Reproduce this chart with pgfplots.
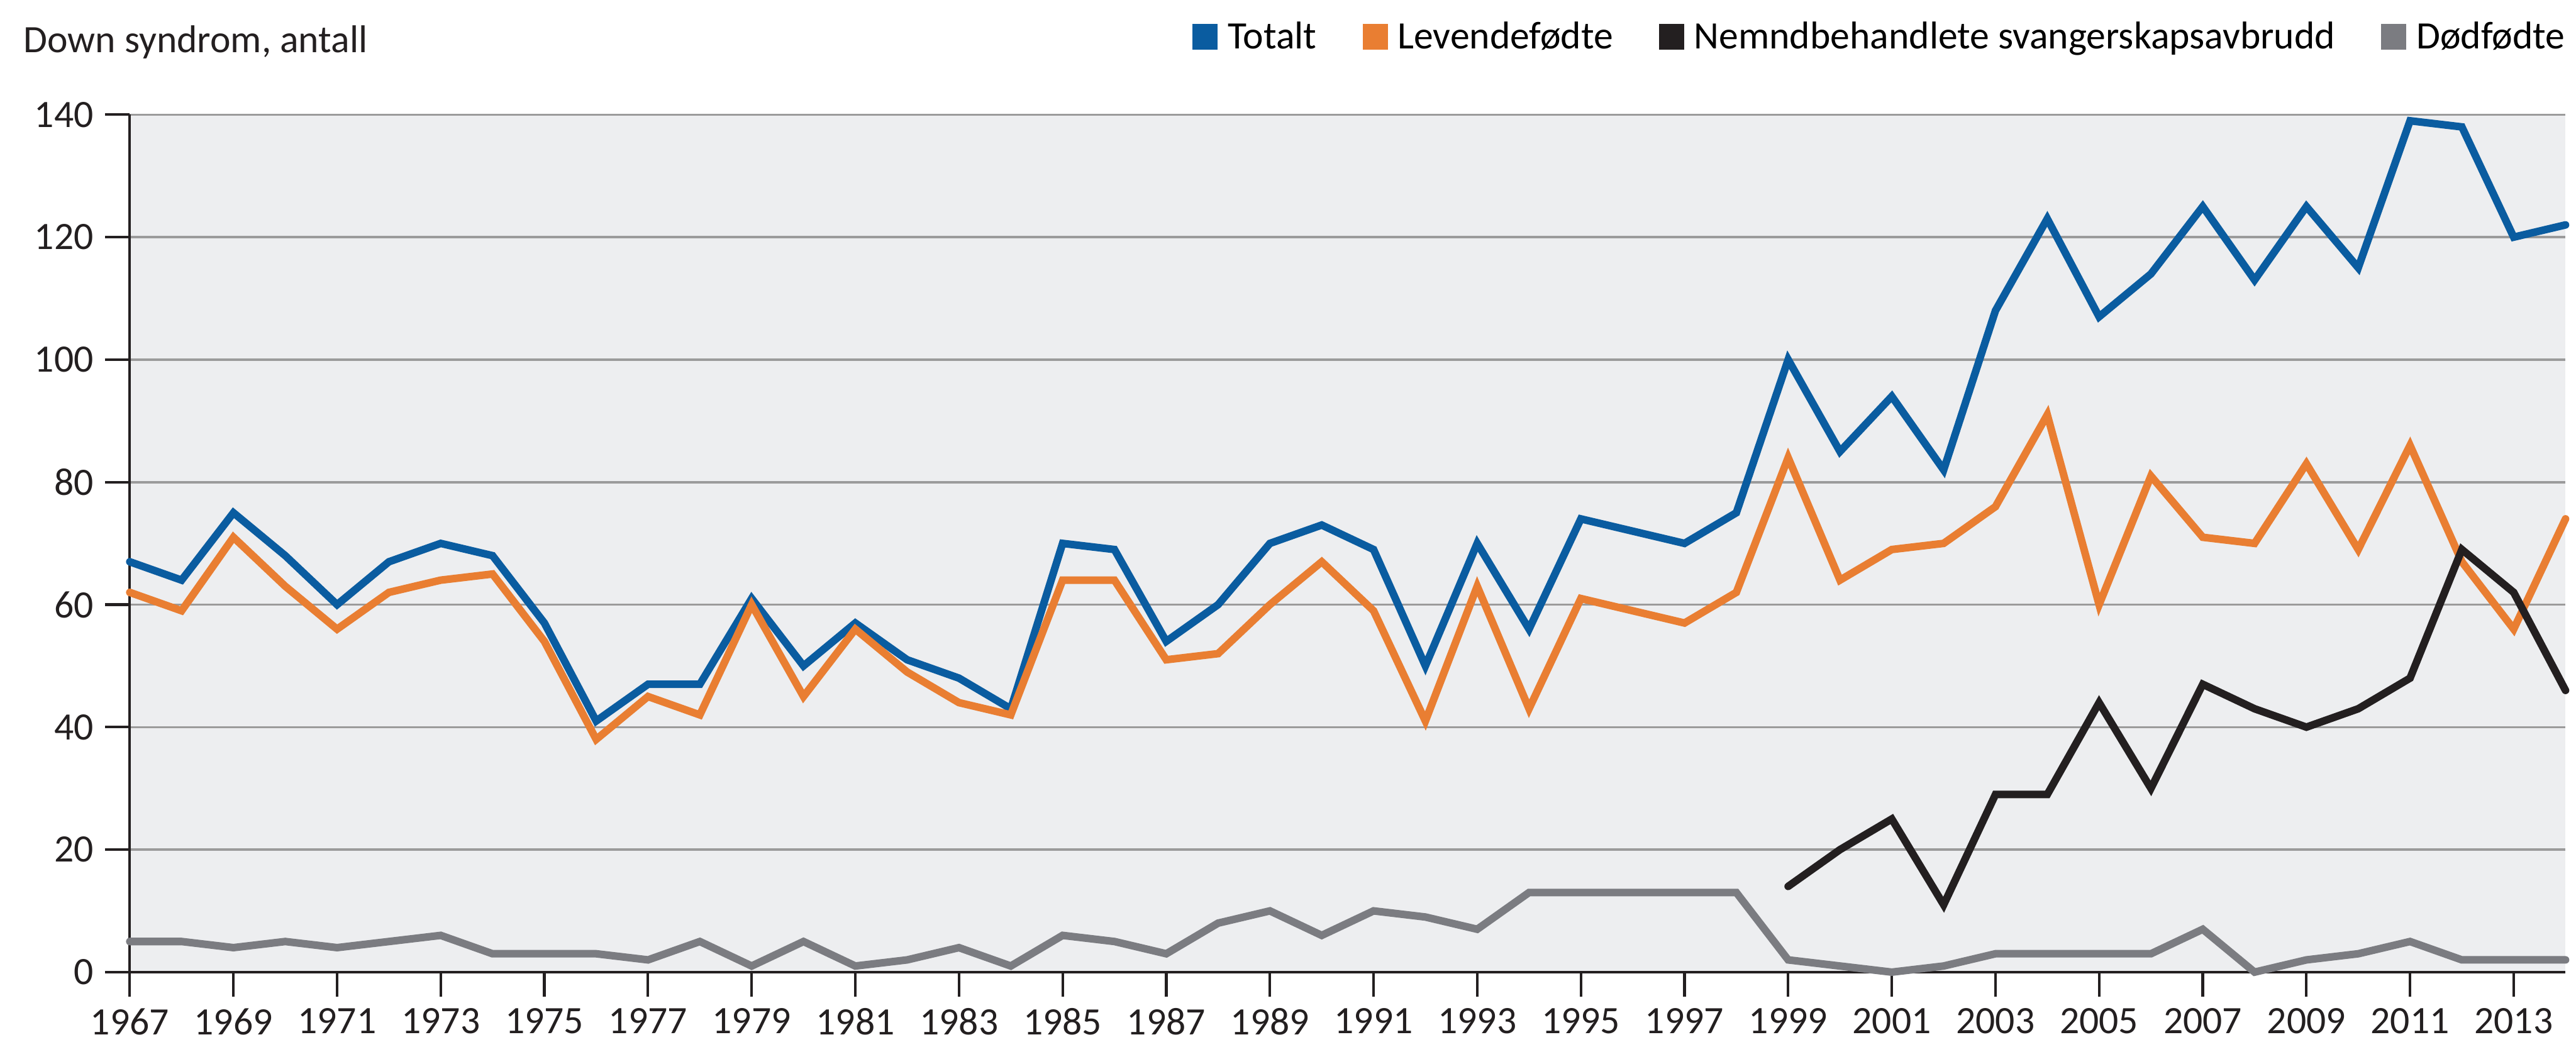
\documentclass[border=0pt]{standalone}
\usepackage{pgfplots}
\pgfplotsset{compat=1.18}
\usepackage{fontspec}
\setmainfont{Carlito}
\definecolor{cTot}{HTML}{0A5CA0}
\definecolor{cLev}{HTML}{E97E32}
\definecolor{cNem}{HTML}{231F20}
\definecolor{cDod}{HTML}{7B7C81}
\definecolor{cBg}{HTML}{EDEEF0}
\definecolor{cGrid}{HTML}{9B9B9B}
\newcommand{\chartfont}{\fontsize{11.8}{13.5}\selectfont}
\begin{document}
\begin{tikzpicture}
\begin{axis}[
  name=ax,
  scale only axis, width=741.3pt, height=261pt,
  xmin=1967, xmax=2014, ymin=0, ymax=140,
  xtick={1967,1969,...,2013}, ytick={0,20,...,140},
  axis lines*=left,
  axis line style={cNem, line width=0.8pt},
  tick align=outside, major tick length=7.5pt,
  tick style={cNem, line width=0.8pt},
  minor tick num=0,
  ymajorgrids, grid style={cGrid, line width=0.7pt},
  axis background/.style={fill=cBg},
  tick label style={font=\chartfont, text=cNem},
  /pgf/number format/assume math mode=true,
  /pgf/number format/1000 sep={},
  clip=false,
  legend columns=4,
  legend cell align=left,
  legend style={at={(1,1)}, anchor=south east, yshift=18.3pt, draw=none, fill=none,
    font=\chartfont, inner sep=0pt, nodes={inner sep=0pt},
    column sep=3pt, /tikz/every even column/.append style={column sep=14pt}},
  legend image code/.code={\fill[#1, draw=none] (0pt,-3.5pt) rectangle (7.7pt,4.3pt);},
  every axis plot/.append style={line width=2.3pt, line cap=round, line join=miter},
]
\addplot[cTot] coordinates {
(1967,67) (1968,64) (1969,75) (1970,68) (1971,60) (1972,67) (1973,70) (1974,68)
(1975,57) (1976,41) (1977,47) (1978,47) (1979,61) (1980,50) (1981,57) (1982,51)
(1983,48) (1984,43) (1985,70) (1986,69) (1987,54) (1988,60) (1989,70) (1990,73)
(1991,69) (1992,50) (1993,70) (1994,56) (1995,74) (1996,72) (1997,70) (1998,75)
(1999,100) (2000,85) (2001,94) (2002,82) (2003,108) (2004,123) (2005,107) (2006,114)
(2007,125) (2008,113) (2009,125) (2010,115) (2011,139) (2012,138) (2013,120) (2014,122)
};
\addlegendentry{Totalt}
\addplot[cLev] coordinates {
(1967,62) (1968,59) (1969,71) (1970,63) (1971,56) (1972,62) (1973,64) (1974,65)
(1975,54) (1976,38) (1977,45) (1978,42) (1979,60) (1980,45) (1981,56) (1982,49)
(1983,44) (1984,42) (1985,64) (1986,64) (1987,51) (1988,52) (1989,60) (1990,67)
(1991,59) (1992,41) (1993,63) (1994,43) (1995,61) (1996,59) (1997,57) (1998,62)
(1999,84) (2000,64) (2001,69) (2002,70) (2003,76) (2004,91) (2005,60) (2006,81)
(2007,71) (2008,70) (2009,83) (2010,69) (2011,86) (2012,67) (2013,56) (2014,74)
};
\addlegendentry{Levendefødte}
\addplot[cNem] coordinates {
(1999,14) (2000,20) (2001,25) (2002,11) (2003,29) (2004,29) (2005,44) (2006,30)
(2007,47) (2008,43) (2009,40) (2010,43) (2011,48) (2012,69) (2013,62) (2014,46)
};
\addlegendentry{Nemndbehandlete svangerskapsavbrudd}
\addplot[cDod] coordinates {
(1967,5) (1968,5) (1969,4) (1970,5) (1971,4) (1972,5) (1973,6) (1974,3)
(1975,3) (1976,3) (1977,2) (1978,5) (1979,1) (1980,5) (1981,1) (1982,2)
(1983,4) (1984,1) (1985,6) (1986,5) (1987,3) (1988,8) (1989,10) (1990,6)
(1991,10) (1992,9) (1993,7) (1994,13) (1995,13) (1996,13) (1997,13) (1998,13)
(1999,2) (2000,1) (2001,0) (2002,1) (2003,3) (2004,3) (2005,3) (2006,3)
(2007,7) (2008,0) (2009,2) (2010,3) (2011,5) (2012,2) (2013,2) (2014,2)
};
\addlegendentry{Dødfødte}
\end{axis}
\node[anchor=base west, inner sep=0pt, font=\chartfont, text=cNem] at ([xshift=-32.5pt,yshift=18.9pt]ax.north west) {Down syndrom, antall};
\pgfresetboundingbox
\path[use as bounding box] ([xshift=-39.5pt,yshift=-22.6pt]ax.south west) rectangle ([xshift=3.2pt,yshift=34.9pt]ax.north east);
\end{tikzpicture}
\end{document}
